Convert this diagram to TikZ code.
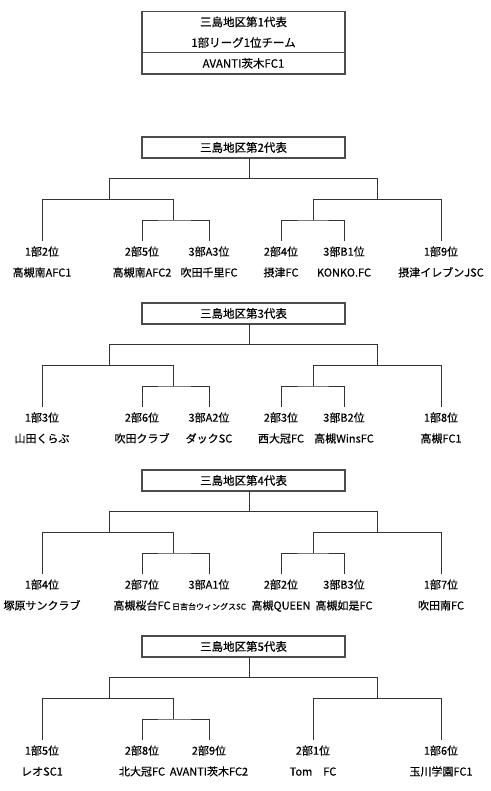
\documentclass[tikz,border=0pt]{standalone}
\usepackage{fontspec}
\setmainfont{Noto Sans CJK JP}[FakeBold=0.4]
\usetikzlibrary{positioning}

\begin{document}
\begin{tikzpicture}[
    x=1pt, y=-1pt,
    font=\fontsize{11}{13}\selectfont,
    hd/.style={draw=black!70, line width=1.2pt, minimum width=203pt,
        minimum height=21pt, inner sep=0pt, outer sep=0pt,
        font=\fontsize{11.5}{20.6}\selectfont},
    rk/.style={anchor=north, inner xsep=1pt, inner ysep=6pt,
        text height=8.5pt, text depth=2pt},
    tm/.style={inner sep=0pt, text height=8.5pt, text depth=2pt},
    ln/.style={draw=black!80, line width=0.9pt},
]
    \useasboundingbox (0,0) rectangle (490,791);

    % ---------- 第1代表 ----------
    \node[hd, minimum height=41pt, align=center] (rep1) at (243.5,32.2)
        {三島地区第1代表\\1部リーグ1位チーム};
    \node[hd, minimum height=21.3pt, below=0pt of rep1] (team1) {AVANTI茨木FC1};

    % ---------- 第2代表 ----------
    \node[hd] (rep2) at (243.5,147.5) {三島地区第2代表};
    \coordinate (m2)  at (249,178.5);
    \coordinate (l2)  at (109,199.5);
    \coordinate (r2)  at (377,199.5);
    \coordinate (ll2) at (173,220);
    \coordinate (rr2) at (313,220);
    \node[rk] (a2) at (42,241)  {1部2位};
    \node[rk] (b2) at (142,241) {2部5位};
    \node[rk] (c2) at (209,241) {3部A3位};
    \node[rk] (d2) at (281,241) {2部4位};
    \node[rk] (e2) at (344,241) {3部B1位};
    \node[rk] (f2) at (441,241) {1部9位};
    \node[tm, below=4pt of a2] (ta2) {高槻南AFC1};
    \node[tm, below=4pt of b2] (tb2) {高槻南AFC2};
    \node[tm, below=4pt of c2] (tc2) {吹田千里FC};
    \node[tm, below=4pt of d2] (td2) {摂津FC};
    \node[tm, below=4pt of e2] (te2) {KONKO.FC};
    \node[tm, below=4pt of f2] (tf2) {摂津イレブンJSC};
    \draw[ln] (rep2.south -| m2) -- (m2);
    \draw[ln] (l2) |- (m2) -| (r2);
    \draw[ln] (a2.north) |- (l2) -| (ll2);
    \draw[ln] (b2.north) |- (ll2) -| (c2.north);
    \draw[ln] (rr2) |- (r2) -| (f2.north);
    \draw[ln] (d2.north) |- (rr2) -| (e2.north);

    % ---------- 第3代表 ----------
    \node[hd] (rep3) at (243.5,313.5) {三島地区第3代表};
    \coordinate (m3)  at (249,344.5);
    \coordinate (l3)  at (109,365.5);
    \coordinate (r3)  at (377,365.5);
    \coordinate (ll3) at (173,386);
    \coordinate (rr3) at (313,386);
    \node[rk] (a3) at (42,407)  {1部3位};
    \node[rk] (b3) at (142,407) {2部6位};
    \node[rk] (c3) at (209,407) {3部A2位};
    \node[rk] (d3) at (281,407) {2部3位};
    \node[rk] (e3) at (344,407) {3部B2位};
    \node[rk] (f3) at (441,407) {1部8位};
    \node[tm, below=4pt of a3] (ta3) {山田くらぶ};
    \node[tm, below=4pt of b3] (tb3) {吹田クラブ};
    \node[tm, below=4pt of c3] (tc3) {ダックSC};
    \node[tm, below=4pt of d3] (td3) {西大冠FC};
    \node[tm, below=4pt of e3] (te3) {高槻WinsFC};
    \node[tm, below=4pt of f3] (tf3) {高槻FC1};
    \draw[ln] (rep3.south -| m3) -- (m3);
    \draw[ln] (l3) |- (m3) -| (r3);
    \draw[ln] (a3.north) |- (l3) -| (ll3);
    \draw[ln] (b3.north) |- (ll3) -| (c3.north);
    \draw[ln] (rr3) |- (r3) -| (f3.north);
    \draw[ln] (d3.north) |- (rr3) -| (e3.north);

    % ---------- 第4代表 ----------
    \node[hd] (rep4) at (243.5,480.5) {三島地区第4代表};
    \coordinate (m4)  at (249,511.5);
    \coordinate (l4)  at (109,532.5);
    \coordinate (r4)  at (377,532.5);
    \coordinate (ll4) at (173,553);
    \coordinate (rr4) at (313,553);
    \node[rk] (a4) at (42,574)  {1部4位};
    \node[rk] (b4) at (142,574) {2部7位};
    \node[rk] (c4) at (209,574) {3部A1位};
    \node[rk] (d4) at (281,574) {2部2位};
    \node[rk] (e4) at (344,574) {3部B3位};
    \node[rk] (f4) at (441,574) {1部7位};
    \node[tm, below=4pt of a4] (ta4) {塚原サンクラブ};
    \node[tm, below=4pt of b4] (tb4) {高槻桜台FC};
    \node[tm, below=4pt of c4, font=\fontsize{8}{9}\selectfont] (tc4) {日吉台ウィングスSC};
    \node[tm, below=4pt of d4] (td4) {高槻QUEEN};
    \node[tm, below=4pt of e4] (te4) {高槻如是FC};
    \node[tm, below=4pt of f4] (tf4) {吹田南FC};
    \draw[ln] (rep4.south -| m4) -- (m4);
    \draw[ln] (l4) |- (m4) -| (r4);
    \draw[ln] (a4.north) |- (l4) -| (ll4);
    \draw[ln] (b4.north) |- (ll4) -| (c4.north);
    \draw[ln] (rr4) |- (r4) -| (f4.north);
    \draw[ln] (d4.north) |- (rr4) -| (e4.north);

    % ---------- 第5代表 ----------
    \node[hd] (rep5) at (243.5,646.5) {三島地区第5代表};
    \coordinate (m5)  at (249,677.5);
    \coordinate (l5)  at (109,698.5);
    \coordinate (r5)  at (377,698.5);
    \coordinate (ll5) at (173,719);
    \node[rk] (a5) at (42,740)  {1部5位};
    \node[rk] (b5) at (142,740) {2部8位};
    \node[rk] (c5) at (209,740) {2部9位};
    \node[rk] (d5) at (313,740) {2部1位};
    \node[rk] (e5) at (441,740) {1部6位};
    \node[tm, below=4pt of a5] (ta5) {レオSC1};
    \node[tm, below=4pt of b5] (tb5) {北大冠FC};
    \node[tm, below=4pt of c5] (tc5) {AVANTI茨木FC2};
    \node[tm, below=4pt of d5] (td5) {Tom　FC};
    \node[tm, below=4pt of e5] (te5) {玉川学園FC1};
    \draw[ln] (rep5.south -| m5) -- (m5);
    \draw[ln] (l5) |- (m5) -| (r5);
    \draw[ln] (a5.north) |- (l5) -| (ll5);
    \draw[ln] (b5.north) |- (ll5) -| (c5.north);
    \draw[ln] (d5.north) |- (r5) -| (e5.north);
\end{tikzpicture}
\end{document}
